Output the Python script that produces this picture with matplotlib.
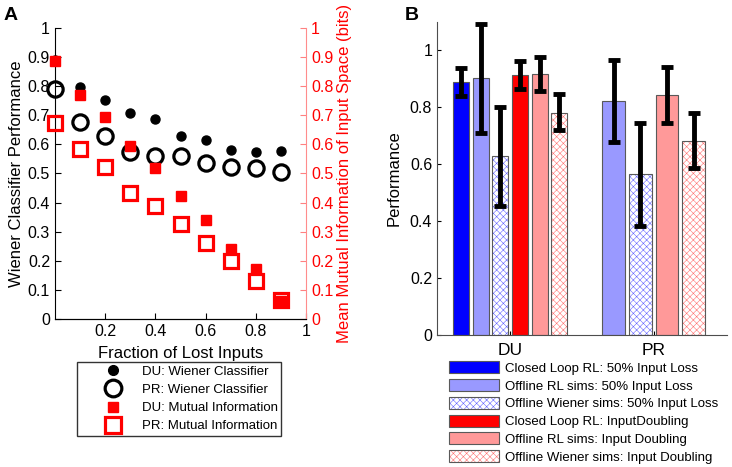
import matplotlib
matplotlib.use("Agg")
import matplotlib.pyplot as plt
from matplotlib.patches import Patch
from matplotlib.lines import Line2D
import numpy as np

plt.rcParams['font.family'] = ['Liberation Sans', 'DejaVu Sans']
plt.rcParams['hatch.linewidth'] = 0.4

# panel A data
frac = [0.0, 0.1, 0.2, 0.3, 0.4, 0.5, 0.6, 0.7, 0.8, 0.9]
du_wiener = [0.89, 0.797, 0.754, 0.708, 0.687, 0.628, 0.614, 0.582, 0.573, 0.576]
pr_wiener = [0.790, 0.676, 0.630, 0.573, 0.559, 0.561, 0.536, 0.521, 0.519, 0.504]
du_mi = [0.888, 0.769, 0.693, 0.593, 0.519, 0.424, 0.341, 0.241, 0.172, 0.063]
pr_mi = [0.674, 0.585, 0.521, 0.433, 0.389, 0.328, 0.261, 0.198, 0.132, 0.064]

# panel B data
groups = ['DU', 'PR']
du_perf = [0.889, 0.903, 0.629, 0.913, 0.916, 0.781]
du_lo = [0.840, 0.708, 0.453, 0.866, 0.857, 0.719]
du_hi = [0.938, 1.094, 0.801, 0.961, 0.977, 0.846]
pr_perf = [0.821, 0.564, 0.842, 0.683]
pr_lo = [0.678, 0.384, 0.743, 0.585]
pr_hi = [0.965, 0.745, 0.942, 0.780]
labels_b = ['Closed Loop RL: 50% Input Loss', 'Offline RL sims: 50% Input Loss',
            'Offline Wiener sims: 50% Input Loss', 'Closed Loop RL: InputDoubling',
            'Offline RL sims: Input Doubling', 'Offline Wiener sims: Input Doubling']

BLUE = (0, 0, 1)
LBLUE = (0.6, 0.6, 1)
RED = (1, 0, 0)
LRED = (1, 0.6, 0.6)
HBLUE = (0.4, 0.4, 1)
HRED = (1, 0.45, 0.45)
EDGE = (0.35, 0.35, 0.35)
styles = [(BLUE, None), (LBLUE, None), (HBLUE, 'xxxxx'), (RED, None), (LRED, None), (HRED, 'xxxxx')]

fig = plt.figure(figsize=(7.32, 4.67), dpi=100)

# ---- panel A ----
axA = fig.add_axes([0.0751, 0.317, 0.343, 0.623])
axA.plot(frac, du_wiener, 'o', color='k', ms=6.5, clip_on=False)
axA.plot(frac, pr_wiener, 'o', mfc='none', mec='k', mew=2.3, ms=11, clip_on=False)
axA.set_xlim(0, 1)
axA.set_ylim(0, 1)
axA.set_xticks([0.2, 0.4, 0.6, 0.8, 1])
axA.set_xticklabels(['0.2', '0.4', '0.6', '0.8', '1'])
ticks01 = ['0', '0.1', '0.2', '0.3', '0.4', '0.5', '0.6', '0.7', '0.8', '0.9', '1']
axA.set_yticks(np.arange(0, 1.01, 0.1))
axA.set_yticklabels(ticks01)
axA.tick_params(direction='in', labelsize=11.5, length=4)
axA.set_xlabel('Fraction of Lost Inputs', fontsize=12, labelpad=5)
axA.set_ylabel('Wiener Classifier Performance', fontsize=12, labelpad=3)
axA.spines['top'].set_visible(False)
axA.spines['right'].set_visible(False)

axA2 = axA.twinx()
axA2.plot(frac, du_mi, 's', color='r', ms=6.5, clip_on=False)
axA2.plot(frac, pr_mi, 's', mfc='none', mec='r', mew=2.3, ms=10.5, clip_on=False)
axA2.set_ylim(0, 1)
axA2.set_yticks(np.arange(0, 1.01, 0.1))
axA2.set_yticklabels(ticks01)
axA2.tick_params(direction='in', labelsize=11.5, length=4, colors=(1, 0.5, 0.5), labelcolor='r')
axA2.spines['right'].set_color((1, 0.55, 0.55))
axA2.spines['top'].set_visible(False)
axA2.spines['left'].set_visible(False)
axA2.set_ylabel('Mean Mutual Information of Input Space (bits)', fontsize=12, color='r', labelpad=3)

handlesA = [
    Line2D([], [], ls='none', marker='o', color='k', ms=7),
    Line2D([], [], ls='none', marker='o', mfc='none', mec='k', mew=2.3, ms=12),
    Line2D([], [], ls='none', marker='s', color='r', ms=6.5),
    Line2D([], [], ls='none', marker='s', mfc='none', mec='r', mew=2.3, ms=11),
]
labelsA = ['DU: Wiener Classifier', 'PR: Wiener Classifier', 'DU: Mutual Information', 'PR: Mutual Information']
legA = fig.legend(handlesA, labelsA, loc='upper left', bbox_to_anchor=(0.105, 0.224),
                  borderaxespad=0, fontsize=9.5, frameon=True, fancybox=False, edgecolor='k',
                  handlelength=5, labelspacing=0.45, borderpad=0.25, handletextpad=-0.3)
legA.get_frame().set_linewidth(1)

# ---- panel B ----
axB = fig.add_axes([0.597, 0.283, 0.396, 0.670])
du_x = 1 + (np.arange(6) - 2.5) * 0.137
pr_x = 2 + (np.arange(4) - 1.5) * 0.186
pr_style_idx = [1, 2, 4, 5]

for i in range(6):
    c, h = styles[i]
    if h is None:
        axB.bar(du_x[i], du_perf[i], width=0.11, color=c, edgecolor=EDGE, lw=0.8)
    else:
        axB.bar(du_x[i], du_perf[i], width=0.11, color='white', edgecolor=c, hatch=h, lw=0)
        axB.bar(du_x[i], du_perf[i], width=0.11, color='none', edgecolor=EDGE, lw=0.8)
for j, i in enumerate(pr_style_idx):
    c, h = styles[i]
    if h is None:
        axB.bar(pr_x[j], pr_perf[j], width=0.157, color=c, edgecolor=EDGE, lw=0.8)
    else:
        axB.bar(pr_x[j], pr_perf[j], width=0.157, color='white', edgecolor=c, hatch=h, lw=0)
        axB.bar(pr_x[j], pr_perf[j], width=0.157, color='none', edgecolor=EDGE, lw=0.8)

du_err = [np.array(du_perf) - np.array(du_lo), np.array(du_hi) - np.array(du_perf)]
pr_err = [np.array(pr_perf) - np.array(pr_lo), np.array(pr_hi) - np.array(pr_perf)]
axB.errorbar(du_x, du_perf, yerr=du_err, fmt='none', ecolor='k', elinewidth=3.5, capsize=4, capthick=3.5)
axB.errorbar(pr_x, pr_perf, yerr=pr_err, fmt='none', ecolor='k', elinewidth=3.5, capsize=4, capthick=3.5)

axB.set_xlim(0.49, 2.51)
axB.set_ylim(0, 1.1)
axB.set_xticks([1, 2])
axB.set_xticklabels(groups)
axB.set_yticks([0, 0.2, 0.4, 0.6, 0.8, 1])
axB.set_yticklabels(['0', '0.2', '0.4', '0.6', '0.8', '1'])
axB.tick_params(direction='in', labelsize=11.5, length=3)
axB.tick_params(axis='x', labelsize=12.5, pad=6)
axB.set_ylabel('Performance', fontsize=12, labelpad=6)
axB.spines['top'].set_visible(False)
axB.spines['right'].set_visible(False)
for s in ['left', 'bottom']:
    axB.spines[s].set_color((0.3, 0.3, 0.3))

handlesB = []
for c, h in styles:
    if h is None:
        handlesB.append(Patch(facecolor=c, edgecolor=EDGE, lw=0.8))
    else:
        handlesB.append((Patch(facecolor='white', edgecolor=c, hatch=h, lw=0),
                         Patch(facecolor='none', edgecolor=EDGE, lw=0.8)))
legB = fig.legend(handlesB, labels_b, loc='upper left', bbox_to_anchor=(0.611, 0.229),
                  borderaxespad=0, fontsize=9.5, frameon=False, handlelength=3.8, handleheight=1.0,
                  labelspacing=0.33, handletextpad=0.5, borderpad=0.1)

fig.text(0.005, 0.985, 'A', fontsize=14, fontweight='bold', va='top')
fig.text(0.553, 0.985, 'B', fontsize=14, fontweight='bold', va='top')

fig.savefig('out.png', dpi=100)
